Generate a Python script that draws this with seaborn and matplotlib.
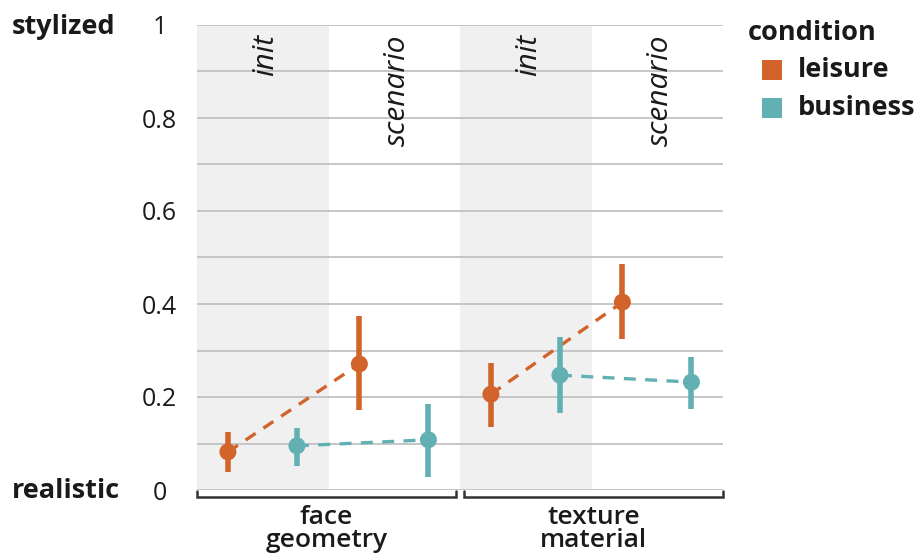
import numpy as np
import pandas as pd
import matplotlib
matplotlib.use("Agg")
import matplotlib.pyplot as plt
from matplotlib.patches import Rectangle
import seaborn as sns

# ---- data -------------------------------------------------------------
facets = ["face\ngeometry", "texture\nmaterial"]
stages = ["init", "scenario"]
conditions = ["leisure", "business"]

# order: face/init, face/scenario, texture/init, texture/scenario
leisure_mean = [0.082, 0.271, 0.206, 0.404]
leisure_lo = [0.038, 0.171, 0.136, 0.324]
leisure_hi = [0.125, 0.374, 0.274, 0.485]

business_mean = [0.095, 0.108, 0.247, 0.232]
business_lo = [0.052, 0.027, 0.165, 0.174]
business_hi = [0.134, 0.186, 0.328, 0.287]

ytick_values = [0, 0.2, 0.4, 0.6, 0.8, 1]
ytick_labels = ["0", "0.2", "0.4", "0.6", "0.8", "1"]

palette = {"leisure": "#d2642b", "business": "#62b0b4"}
dodge = {"leisure": -0.265, "business": 0.26}

# ---- long table -------------------------------------------------------
rows = []
series = {
    "leisure": (leisure_mean, leisure_lo, leisure_hi),
    "business": (business_mean, business_lo, business_hi),
}
for cond in conditions:
    m, lo, hi = series[cond]
    i = 0
    for fi, facet in enumerate(facets):
        for si, stage in enumerate(stages):
            col = fi * len(stages) + si
            rows.append(dict(facet=facet, stage=stage, condition=cond,
                             col=col, x=col + 0.5 + dodge[cond],
                             mean=m[i], lo=lo[i], hi=hi[i]))
            i += 1
df = pd.DataFrame(rows)

# ---- style ------------------------------------------------------------
sns.set_theme(style="white")
plt.rcParams["font.family"] = ["Open Sans", "DejaVu Sans"]
text_color = "#1a1a1a"
label_size = 19.5

W, H = 921, 555
fig = plt.figure(figsize=(W / 100, H / 100), dpi=100)
ax = fig.add_axes([197 / W, 1 - 490 / H, (723 - 197) / W, (490 - 25) / H])

ncols = len(facets) * len(stages)
ax.set_xlim(0, ncols)
ax.set_ylim(0, 1)

# shaded "init" columns
for col in range(0, ncols, 2):
    ax.axvspan(col, col + 1, color="#f0f0f0", zorder=0, lw=0)

# grid
ax.set_yticks(ytick_values, labels=ytick_labels)
ax.set_yticks(np.arange(0.1, 1.0, 0.2), minor=True)
ax.grid(True, axis="y", which="both", color="#c2c2c2", lw=1.3, zorder=1)
ax.set_axisbelow(True)
ax.set_xticks([])
for sp in ax.spines.values():
    sp.set_visible(False)
ax.tick_params(axis="y", which="both", length=0, pad=27, labelsize=18,
               labelcolor=text_color)
for lab in ax.get_yticklabels():
    lab.set_horizontalalignment("center")

# error bars
ax.vlines(df["x"], df["lo"], df["hi"], colors=df["condition"].map(palette),
          lw=4.0, zorder=3)

# dashed connectors between stages inside each facet
sns.lineplot(data=df, x="x", y="mean", hue="condition", units="facet",
             estimator=None, palette=palette, sort=False, legend=False,
             lw=2.4, linestyle=(0, (3.6, 2.8)), ax=ax, zorder=2)

# point estimates
sns.scatterplot(data=df, x="x", y="mean", hue="condition", palette=palette,
                s=150, edgecolor="none", legend=False, ax=ax, zorder=4)
ax.set_xlabel("")
ax.set_ylabel("")

# stage labels along the top of each column
for fi in range(len(facets)):
    for si, stage in enumerate(stages):
        col = fi * len(stages) + si
        ax.text(col + 0.5 + 0.02, 0.98, stage, rotation=90, ha="center",
                va="top", fontsize=21.5, style="italic", color=text_color,
                transform=ax.get_xaxis_transform())

# facet brackets and labels
trans = ax.get_xaxis_transform()
bracket_y, tick_y = -0.016, -0.003
for fi, facet in enumerate(facets):
    x0 = fi * len(stages) + (0.0 if fi == 0 else 0.03)
    x1 = (fi + 1) * len(stages) - (0.03 if fi == 0 else 0.0)
    ax.plot([x0, x0, x1, x1], [tick_y, bracket_y, bracket_y, tick_y],
            color="#333333", lw=1.8, transform=trans, clip_on=False,
            solid_joinstyle="miter")
    ax.text((x0 + x1) / 2, -0.032, facet, ha="center", va="top",
            fontsize=19, fontweight="semibold", color=text_color,
            linespacing=0.88, transform=trans)

# axis end labels
fig.text(12 / W, 1 - 27 / H, "stylized", ha="left", va="center",
         fontsize=label_size, fontweight="bold", color=text_color)
fig.text(12 / W, 1 - 491 / H, "realistic", ha="left", va="center",
         fontsize=label_size, fontweight="bold", color=text_color)

# legend: title, colour swatches and labels
fig.text(748 / W, 1 - 33 / H, "condition", ha="left", va="center",
         fontsize=label_size, fontweight="bold", color=text_color)
for k, cond in enumerate(conditions):
    yc = 70 + 38 * k
    fig.patches.append(Rectangle((762 / W, 1 - (yc + 10) / H), 20 / W, 20 / H,
                                 transform=fig.transFigure, facecolor=palette[cond],
                                 edgecolor="none"))
    fig.text(798 / W, 1 - yc / H, cond, ha="left", va="center",
             fontsize=label_size, fontweight="bold", color=text_color)

fig.savefig("out.png", dpi=100)
